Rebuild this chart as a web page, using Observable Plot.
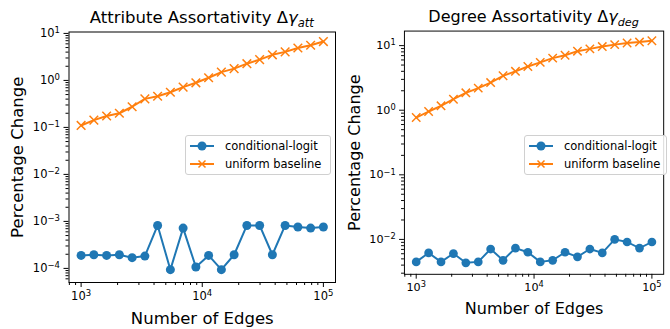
<!DOCTYPE html>
<html><head><meta charset="utf-8">
<script src="https://cdn.jsdelivr.net/npm/d3@7"></script>
<script src="https://cdn.jsdelivr.net/npm/@observablehq/plot@0.6"></script>
<style>
body{margin:0;background:#fff;}
#wrap{position:relative;width:670px;height:329px;overflow:hidden;font-family:"DejaVu Sans";background:#fff;}
.panel{position:absolute;top:0;}
.legend{position:absolute;top:135px;height:38px;border:1px solid #d0d0d0;border-radius:3px;background:rgba(255,255,255,0.85);font-family:"DejaVu Sans";font-size:11.5px;color:#000;}
.row{position:absolute;left:0;height:18px;display:flex;align-items:center;white-space:nowrap;}
.row svg{margin-left:4px;margin-right:11px;}
</style></head><body><div id="wrap"></div>
<script>
// Number of edges (x)
const edges = [1000, 1274, 1624, 2069, 2637, 3360, 4281, 5456, 6952, 8859, 11288, 14384, 18330, 23357, 29764, 37927, 48329, 61585, 78476, 100000];
// Attribute assortativity panel
const attLogit = [1.89e-4, 1.95e-4, 1.89e-4, 1.95e-4, 1.69e-4, 1.83e-4, 8.2e-4, 9.4e-5, 7.2e-4, 1.07e-4, 1.89e-4, 9.4e-5, 1.95e-4, 8.2e-4, 8.2e-4, 1.95e-4, 8.2e-4, 7.6e-4, 7.2e-4, 7.6e-4];
const attBaseline = [0.11, 0.143, 0.175, 0.2, 0.275, 0.405, 0.46, 0.56, 0.72, 0.89, 1.14, 1.5, 1.78, 2.27, 2.77, 3.5, 4.05, 4.9, 5.6, 6.7];
// Degree assortativity panel
const degLogit = [4.49e-3, 6.18e-3, 4.49e-3, 6.04e-3, 4.34e-3, 4.49e-3, 7.1e-3, 4.75e-3, 7.34e-3, 6.33e-3, 4.49e-3, 4.75e-3, 6.33e-3, 5.38e-3, 7.1e-3, 6.18e-3, 1.0e-2, 9.12e-3, 7.34e-3, 9.12e-3];
const degBaseline = [0.77, 0.955, 1.17, 1.48, 1.86, 2.2, 2.68, 3.41, 4.0, 4.75, 5.5, 6.4, 7.1, 8.2, 8.9, 9.66, 10.35, 10.96, 11.35, 11.9];

const seriesNames = ["conditional-logit", "uniform baseline"];
const colors = ["#1f77b4", "#ff7f0e"];
const xMajor = [1e3, 1e4, 1e5];
const xLabel = "Number of Edges";
const yLabel = "Percentage Change";

const expOf = d => String(Math.round(Math.log10(d))).replace("-", "−");
const fmt = d => "10^" + expOf(d);
function minorTicks(lo, hi) {
  const out = [];
  for (let k = Math.floor(Math.log10(lo)); k <= Math.ceil(Math.log10(hi)); k++)
    for (let m = 2; m <= 9; m++) { const v = m * 10 ** k; if (v >= lo && v <= hi) out.push(v); }
  return out;
}

const xDomain = [10 ** 2.9, 10 ** 5.1];
const wrap = document.getElementById("wrap");

function panel({logit, baseline, yDomain, yMajor, title, sub, left, width, ml, mr, legendLeft, legendWidth}) {
  const dLogit = edges.map((e, i) => ({e, v: logit[i]}));
  const dBase = edges.map((e, i) => ({e, v: baseline[i]}));
  const svg = Plot.plot({
    width, height: 329, marginLeft: ml, marginRight: mr, marginTop: 31.5, marginBottom: 47,
    x: {type: "log", domain: xDomain},
    y: {type: "log", domain: yDomain},
    style: {fontFamily: "DejaVu Sans", background: "transparent", color: "#000", overflow: "visible"},
    marks: [
      Plot.axisX({ticks: xMajor, tickFormat: fmt, tickSize: 5, tickPadding: 4, fontSize: 11.5, label: null}),
      Plot.axisX({ticks: minorTicks(xDomain[0], xDomain[1]), tickFormat: () => "", tickSize: 3, label: null}),
      Plot.axisY({ticks: yMajor, tickFormat: fmt, tickSize: 5, tickPadding: 4, fontSize: 11.5, label: null}),
      Plot.axisY({ticks: minorTicks(yDomain[0], yDomain[1]), tickFormat: () => "", tickSize: 3, label: null}),
      Plot.line(dBase, {x: "e", y: "v", stroke: colors[1], strokeWidth: 2}),
      Plot.dot(dBase, {x: "e", y: "v", symbol: "times", r: 4, stroke: colors[1], strokeWidth: 1.5}),
      Plot.line(dLogit, {x: "e", y: "v", stroke: colors[0], strokeWidth: 2}),
      Plot.dot(dLogit, {x: "e", y: "v", r: 4.5, fill: colors[0], stroke: "none"}),
      Plot.text([yLabel], {frameAnchor: "left", textAnchor: "middle", lineAnchor: "middle", dx: -51, rotate: -90, fontSize: 16.5, fill: "#000"}),
      Plot.text([xLabel], {frameAnchor: "bottom", textAnchor: "middle", lineAnchor: "middle", dy: 36, fontSize: 16.5, fill: "#000"}),
      Plot.frame({stroke: "#000", strokeWidth: 1, fill: "none"})
    ]
  });
  // render tick labels as 10 with raised exponent
  d3.select(svg).selectAll("text").each(function () {
    const s = this.textContent;
    const m = /^10\^(.+)$/.exec(s);
    if (!m) return;
    const el = d3.select(this);
    el.text(null);
    el.append("tspan").text("10");
    el.append("tspan").attr("font-size", "8.5px").attr("dy", "-0.45em").text(m[1]);
  });
  const cx = ml + (width - ml - mr) / 2;
  const t = d3.select(svg).append("text").attr("x", cx).attr("y", 23).attr("text-anchor", "middle")
    .attr("font-size", 16.5).attr("font-family", "DejaVu Sans").attr("fill", "#000");
  t.append("tspan").text(title + " Δ");
  t.append("tspan").attr("font-style", "italic").text("γ");
  t.append("tspan").attr("font-style", "italic").attr("font-size", 11.5).attr("dy", 4).text(sub);
  const div = document.createElement("div");
  div.className = "panel"; div.style.left = left + "px";
  div.appendChild(svg);
  wrap.appendChild(div);

  const lg = document.createElement("div");
  lg.className = "legend"; lg.style.left = legendLeft + "px"; lg.style.width = legendWidth + "px";
  seriesNames.forEach((name, i) => {
    const row = document.createElement("div");
    row.className = "row"; row.style.top = (1 + i * 18) + "px";
    const mk = i === 0
      ? `<circle cx="12" cy="7" r="4.5" fill="${colors[0]}"/>`
      : `<path d="M8.5,3.5L15.5,10.5M15.5,3.5L8.5,10.5" stroke="${colors[1]}" stroke-width="1.5"/>`;
    row.innerHTML = `<svg width="24" height="14"><line x1="0" y1="7" x2="24" y2="7" stroke="${colors[i]}" stroke-width="2"/>${mk}</svg><span>${name}</span>`;
    lg.appendChild(row);
  });
  wrap.appendChild(lg);
}

panel({logit: attLogit, baseline: attBaseline, yDomain: [10 ** -4.30, 10 ** 1.03], yMajor: [1e-4, 1e-3, 1e-2, 1e-1, 1e0, 1e1],
  title: "Attribute Assortativity", sub: "att", left: 0, width: 338, ml: 68.5, mr: 3, legendLeft: 185, legendWidth: 144});
panel({logit: degLogit, baseline: degBaseline, yDomain: [10 ** -2.54, 10 ** 1.225], yMajor: [1e-2, 1e-1, 1e0, 1e1],
  title: "Degree Assortativity", sub: "deg", left: 335, width: 345, ml: 71, mr: 7, legendLeft: 524, legendWidth: 141});
</script></body></html>
